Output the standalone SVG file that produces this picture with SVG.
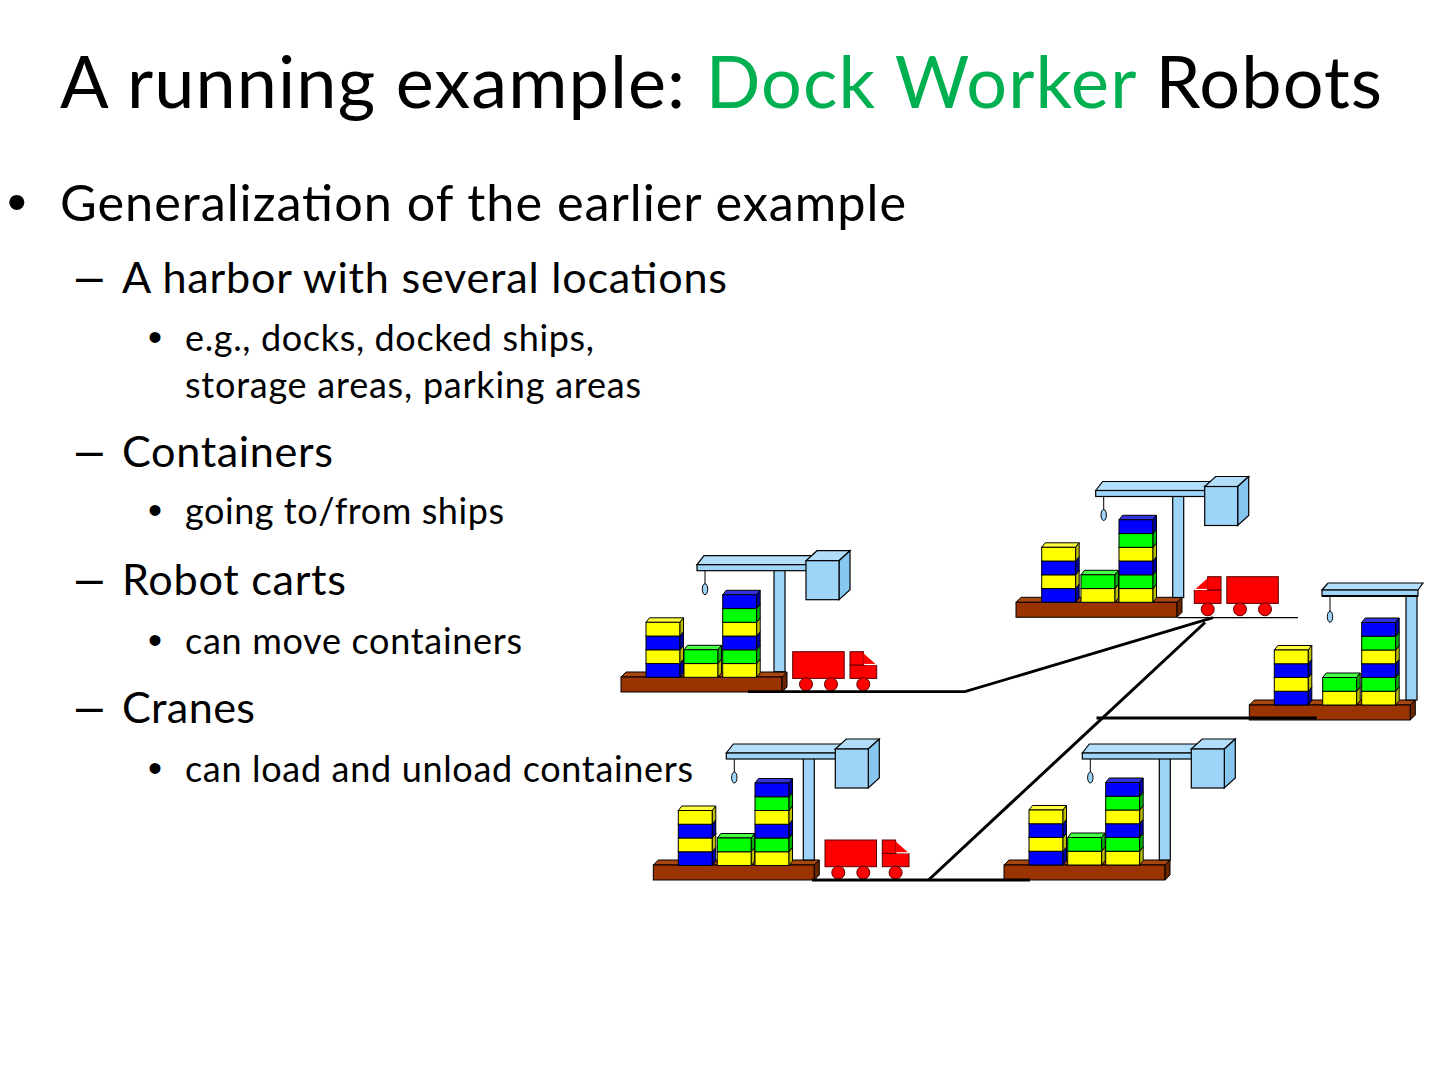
<svg xmlns="http://www.w3.org/2000/svg" width="1440" height="1080" viewBox="0 0 1440 1080">
<style>
  .t{font-family:Lato,"Liberation Sans",sans-serif;fill:#000}
  .b{font-family:"Liberation Sans",Arial,sans-serif;fill:#000}
  .k{stroke:#000;stroke-width:1}
  .cb{fill:#9DD4F7;stroke:#000;stroke-width:1.2}
  .cbt{fill:#B3DEF9;stroke:#000;stroke-width:1.2}
  .cbs{fill:#86C6EF;stroke:#000;stroke-width:1.2}
  .red{fill:#FF0000;stroke:#5A0000;stroke-width:1}
  .gl{fill:none;stroke:#000;stroke-linecap:butt;stroke-linejoin:miter}
</style>
<defs>
  <g id="bY">
    <polygon class="k" points="0,0 3.5,-4.5 37.5,-4.5 34,0" fill="#FFFF40"/>
    <rect class="k" x="0" y="0" width="34" height="13.75" fill="#FFFF00"/>
    <polygon class="k" points="34,0 37.5,-4.5 37.5,9.25 34,13.75" fill="#BEBE00"/>
  </g>
  <g id="bB">
    <polygon class="k" points="0,0 3.5,-4.5 37.5,-4.5 34,0" fill="#3333DD"/>
    <rect class="k" x="0" y="0" width="34" height="13.75" fill="#0000FF"/>
    <polygon class="k" points="34,0 37.5,-4.5 37.5,9.25 34,13.75" fill="#0000A8"/>
  </g>
  <g id="bG">
    <polygon class="k" points="0,0 3.5,-4.5 37.5,-4.5 34,0" fill="#44FF44"/>
    <rect class="k" x="0" y="0" width="34" height="13.75" fill="#00FF00"/>
    <polygon class="k" points="34,0 37.5,-4.5 37.5,9.25 34,13.75" fill="#00B400"/>
  </g>
  <g id="stack4">
    <use href="#bB" y="-13.75"/>
    <use href="#bY" y="-27.5"/>
    <use href="#bB" y="-41.25"/>
    <use href="#bY" y="-55"/>
  </g>
  <g id="stack2">
    <use href="#bY" y="-13.75"/>
    <use href="#bG" y="-27.5"/>
  </g>
  <g id="stack6">
    <use href="#bY" y="-13.75"/>
    <use href="#bG" y="-27.5"/>
    <use href="#bB" y="-41.25"/>
    <use href="#bY" y="-55"/>
    <use href="#bG" y="-68.75"/>
    <use href="#bB" y="-82.5"/>
  </g>
  <g id="pallet">
    <polygon class="k" points="0,0 5,-5 166,-5 161,0" fill="#A8470F"/>
    <rect class="k" x="0" y="0" width="161" height="15" fill="#993300"/>
    <polygon class="k" points="161,0 166,-5 166,10 161,15" fill="#6B2400"/>
  </g>
  <g id="crane">
    <rect class="cb" x="0" y="-102" width="11" height="102"/>
    <polygon class="cbt" points="-77,-107 -70,-116 40,-116 33,-107"/>
    <rect class="cb" x="-77" y="-107" width="110" height="6"/>
    <line x1="-69" y1="-101" x2="-69" y2="-88" stroke="#000" stroke-width="1"/>
    <ellipse cx="-69" cy="-82.5" rx="2.7" ry="5.5" fill="#9DD4F7" stroke="#000" stroke-width="1"/>
    <polygon class="cbt" points="32,-111 43,-121 76,-121 65,-111"/>
    <polygon class="cbs" points="65,-111 76,-121 76,-82 65,-72"/>
    <rect class="cb" x="32" y="-111" width="33" height="39"/>
  </g>
  <g id="truck">
    <rect class="red" x="0" y="0" width="51.5" height="26.7"/>
    <rect class="red" x="57.3" y="13.3" width="26.7" height="13.4"/>
    <rect class="red" x="57.3" y="0" width="13.4" height="13.3"/>
    <polygon points="70.7,1.5 84,13.3 70.7,13.3" fill="#FF0000"/>
    <line x1="71.5" y1="12.8" x2="84" y2="12.8" stroke="#FFFFFF" stroke-width="1.2"/>
    <circle class="red" cx="13.3" cy="32.6" r="6.5"/>
    <circle class="red" cx="38.3" cy="32.6" r="6.5"/>
    <circle class="red" cx="70.6" cy="32.6" r="6.5"/>
  </g>
</defs>

<rect x="0" y="0" width="1440" height="1080" fill="#FFFFFF"/>

<g id="title">
  <text class="t" x="60" y="108" font-size="72" textLength="1322">A running example: <tspan fill="#00B050">Dock Worker</tspan> Robots</text>
</g>

<g id="bullets">
  <text class="b" x="7" y="221" font-size="56">•</text>
  <text class="t" x="60" y="221" font-size="50.4" textLength="846">Generalization of the earlier example</text>

  <text class="b" x="76" y="292.7" font-size="48">–</text>
  <text class="t" x="122" y="292.7" font-size="43.2" textLength="605">A harbor with several locations</text>
  <text class="b" x="148" y="350.5" font-size="40">•</text>
  <text class="t" x="185" y="350.5" font-size="36" textLength="409">e.g., docks, docked ships,</text>
  <text class="t" x="185" y="397.5" font-size="36" textLength="456">storage areas, parking areas</text>

  <text class="b" x="76" y="466.7" font-size="48">–</text>
  <text class="t" x="122" y="466.7" font-size="43.2" textLength="211">Containers</text>
  <text class="b" x="148" y="523.5" font-size="40">•</text>
  <text class="t" x="185" y="523.5" font-size="36" textLength="319">going to/from ships</text>

  <text class="b" x="76" y="595" font-size="48">–</text>
  <text class="t" x="122" y="595" font-size="43.2" textLength="224">Robot carts</text>
  <text class="b" x="148" y="654" font-size="40">•</text>
  <text class="t" x="185" y="654" font-size="36" textLength="337">can move containers</text>

  <text class="b" x="76" y="723.3" font-size="48">–</text>
  <text class="t" x="122" y="723.3" font-size="43.2" textLength="133">Cranes</text>
  <text class="b" x="148" y="781.7" font-size="40">•</text>
  <text class="t" x="185" y="781.7" font-size="36" textLength="508">can load and unload containers</text>
</g>

<g id="dock1">
  <use href="#pallet" x="621" y="677"/>
  <use href="#stack4" x="646" y="677.3"/>
  <use href="#stack2" x="684" y="677.3"/>
  <use href="#stack6" x="722.7" y="677.3"/>
  <use href="#crane" x="774" y="671.7"/>
  <use href="#truck" x="792.7" y="651.7"/>
</g>

<g id="dock2">
  <use href="#pallet" x="1016" y="602.3"/>
  <use href="#stack4" x="1041.7" y="602.3"/>
  <use href="#stack2" x="1081" y="602.3"/>
  <use href="#stack6" x="1119" y="602.3"/>
  <use href="#crane" x="1172.7" y="597.5"/>
  <use href="#truck" transform="translate(1278.3,576.7) scale(-1,1)"/>
</g>

<g id="dock3">
  <use href="#pallet" x="1249.3" y="705"/>
  <use href="#stack4" x="1274.3" y="705"/>
  <use href="#stack2" x="1322.7" y="705"/>
  <use href="#stack6" x="1361.7" y="705"/>
  <rect class="cb" x="1406" y="596" width="11" height="104"/>
  <polygon class="cbt" points="1322,590 1328,583 1423,583 1418,590"/>
  <rect class="cb" x="1322" y="590" width="96" height="6"/>
  <line x1="1322" y1="596" x2="1418" y2="596" stroke="#000" stroke-width="2"/>
  <line x1="1330" y1="596" x2="1330" y2="611" stroke="#000" stroke-width="1"/>
  <ellipse cx="1330" cy="616.7" rx="2.7" ry="5.5" fill="#9DD4F7" stroke="#000" stroke-width="1"/>
</g>

<g id="dock4">
  <use href="#pallet" x="653.3" y="865"/>
  <use href="#stack4" x="678.3" y="865.5"/>
  <use href="#stack2" x="717.3" y="865.5"/>
  <use href="#stack6" x="755" y="865.5"/>
  <use href="#crane" x="803.3" y="860"/>
  <use href="#truck" x="825" y="840"/>
</g>

<g id="dock5">
  <use href="#pallet" x="1004" y="865"/>
  <use href="#stack4" x="1029" y="865"/>
  <use href="#stack2" x="1067.7" y="865"/>
  <use href="#stack6" x="1105.7" y="865"/>
  <use href="#crane" x="1159.3" y="860"/>
</g>

<g id="connectors">
  <polyline class="gl" points="748,691.7 965,691.7 1213,617.7" stroke-width="2.8"/>
  <line class="gl" x1="1178" y1="617.7" x2="1298" y2="617.7" stroke-width="1.3"/>
  <line class="gl" x1="928" y1="880.5" x2="1205" y2="622.5" stroke-width="3"/>
  <line class="gl" x1="1096.5" y1="718" x2="1316.7" y2="718" stroke-width="3"/>
  <line class="gl" x1="812" y1="880" x2="1030" y2="880" stroke-width="3"/>
</g>
</svg>
